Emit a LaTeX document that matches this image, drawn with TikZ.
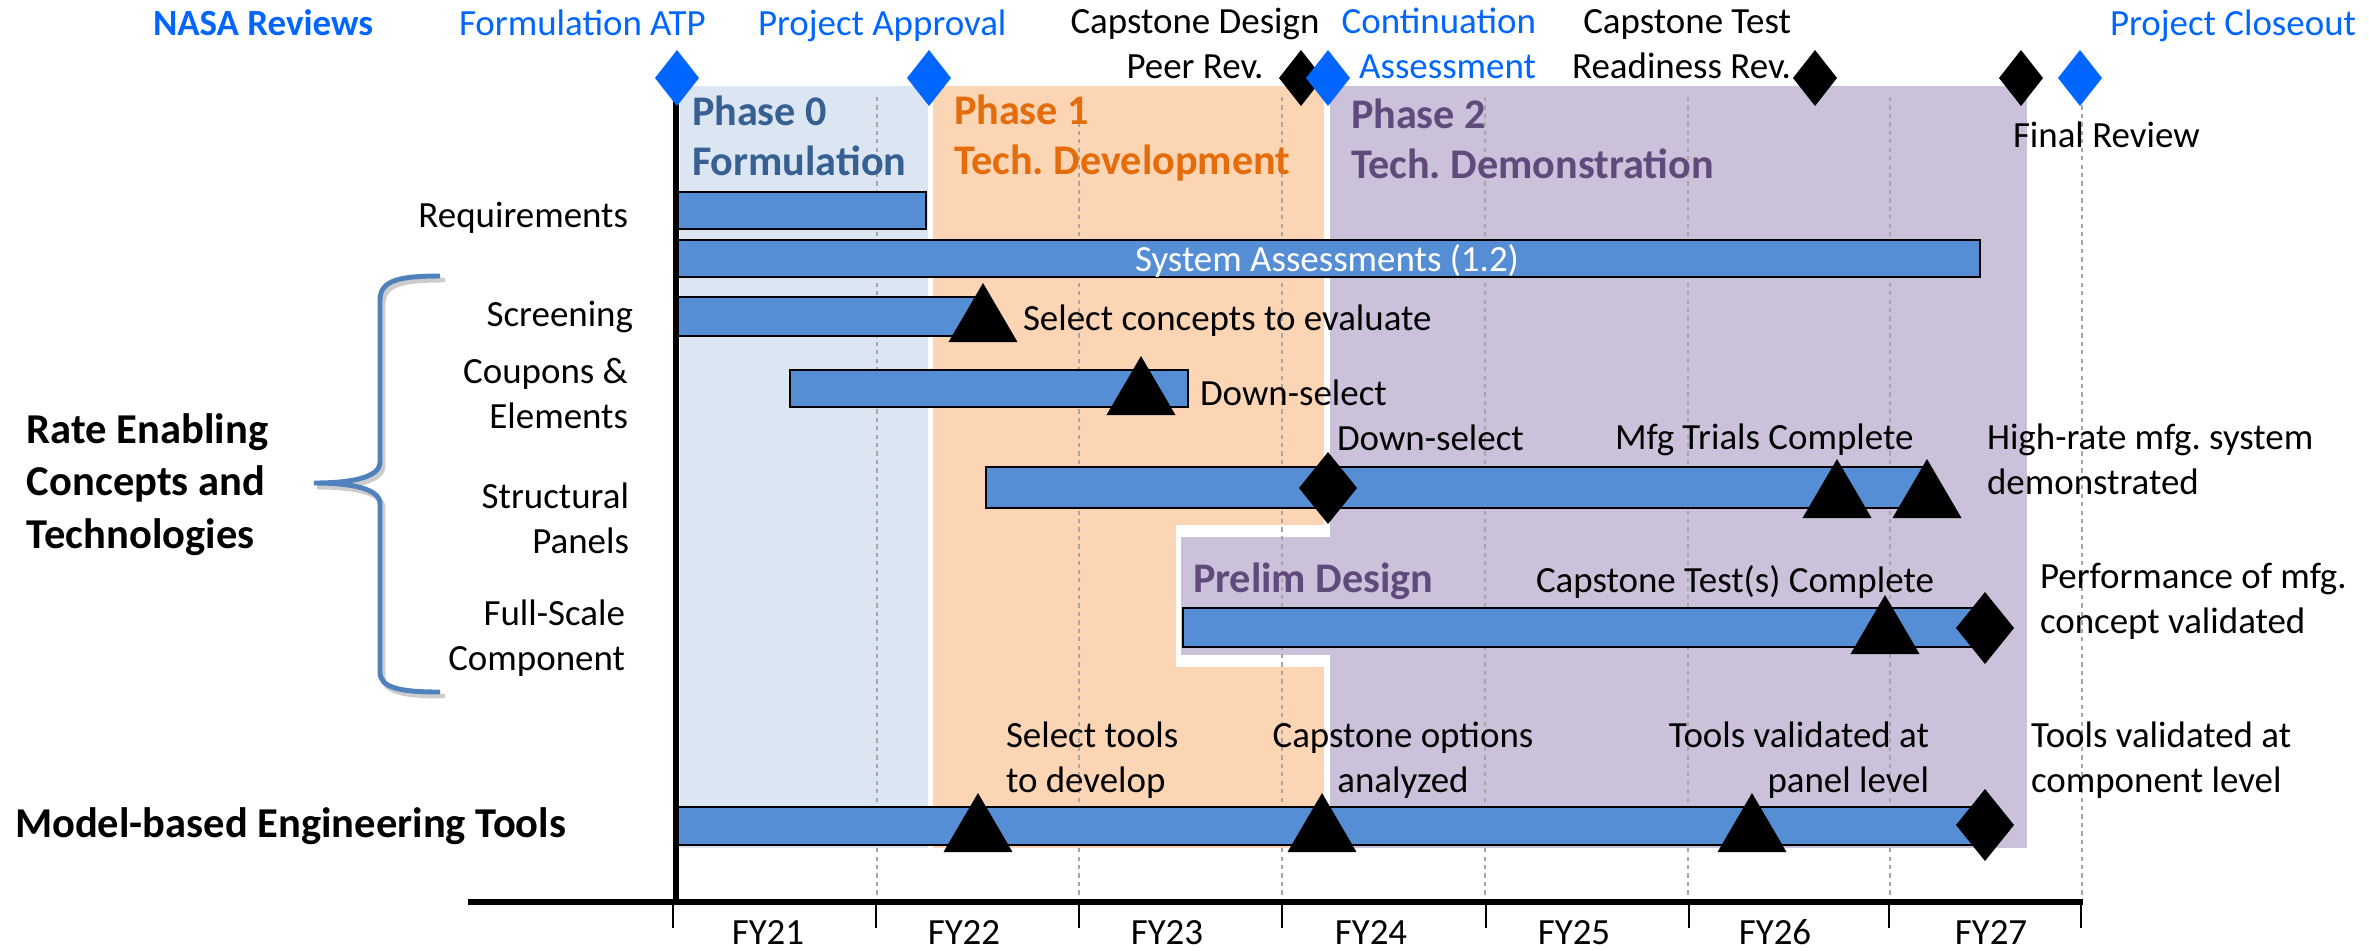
\documentclass[tikz,border=0pt]{standalone}
\usepackage{fontspec}
\setmainfont{Carlito}
\frenchspacing
\definecolor{barblue}{HTML}{558ED5}
\definecolor{phzero}{HTML}{DCE6F2}
\definecolor{phone}{HTML}{FCD5B5}
\definecolor{phtwo}{HTML}{CCC1DA}
\definecolor{nasablue}{HTML}{0066FF}
\definecolor{phzerotxt}{HTML}{376092}
\definecolor{phonetxt}{HTML}{E46C0A}
\definecolor{phtwotxt}{HTML}{604A7B}
\definecolor{bracecol}{HTML}{4F81BD}
\tikzset{
  lbl/.style={inner sep=0pt, outer sep=0pt, font=\fontsize{10.5}{12.6}\selectfont},
  blbl/.style={inner sep=0pt, outer sep=0pt, font=\bfseries\fontsize{12}{14.2}\selectfont},
  lblb/.style={inner sep=0pt, outer sep=0pt, font=\bfseries\fontsize{12.1}{14.8}\selectfont},
  bar/.style={draw=black, line width=0.8pt, fill=barblue},
  yeargrid/.style={black!35, dash pattern=on 1.2pt off 1.2pt, line width=0.35pt},
  mstri/.pic={\fill[black] (0,0) -- (34.5,59) -- (-34.5,59) -- cycle;},
  msdia/.pic={\fill[black] (0,-36) -- (29,0) -- (0,36) -- (-29,0) -- cycle;},
  topdia/.pic={\fill[#1] (0,-28) -- (22,0) -- (0,28) -- (-22,0) -- cycle;},
}
\begin{document}
\begin{tikzpicture}[x=0.01cm, y=-0.01cm]
\useasboundingbox (0,0) rectangle (2369,950);
% phase backgrounds
\fill[phzero] (680,86) rectangle (928,848);
\fill[phone] (933,86) rectangle (1324,848);
\fill[phtwo] (1330,86) rectangle (2027,848);
\fill[white] (1176,525) rectangle (1330,667);
\fill[phtwo] (1181,537) rectangle (1331,655);
% year grid
\foreach \gx in {877,1079,1282,1485,1688,1890,2082}
  \draw[yeargrid] (\gx,97) -- (\gx,900);
% bars
\draw[bar] (676,192) rectangle (926,229);
\draw[bar] (676,240) rectangle (1980,277);
\draw[bar] (676,297) rectangle (975,336);
\draw[bar] (790,370) rectangle (1188,407);
\draw[bar] (986,467) rectangle (1925,508);
\draw[bar] (1183,608) rectangle (1978,647);
\draw[bar] (676,807) rectangle (1978,845);
% axes
\draw[line width=1.5pt] (676,100) -- (676,902);
\draw[line width=1.7pt] (468,902) -- (2083,902);
\foreach \tx in {673,876,1079,1282,1486,1689,1889,2081}
  \draw[line width=0.45pt] (\tx,902) -- (\tx,928);
% milestones on bars
\pic at (983,283) {mstri};
\pic at (1141,356) {mstri};
\pic at (1837,459) {mstri};
\pic at (1927,459) {mstri};
\pic at (1885,595) {mstri};
\pic at (978,793) {mstri};
\pic at (1322,793) {mstri};
\pic at (1752,793) {mstri};
\pic at (1328,488) {msdia};
\pic at (1985,628) {msdia};
\pic at (1985,825) {msdia};
% top review diamonds
\pic at (1301,78) {topdia=black};
\pic at (1815,78) {topdia=black};
\pic at (2021,78) {topdia=black};
\pic at (677,78) {topdia=nasablue};
\pic at (929,78) {topdia=nasablue};
\pic at (1328,78) {topdia=nasablue};
\pic at (2080,78) {topdia=nasablue};
% brace
\draw[black!40, opacity=0.5, line width=1.4pt, line cap=round]
  (443,280) .. controls (403,280) and (383,284) .. (383,304) -- (383,466)
  .. controls (383,482) and (353,487) .. (317,487)
  .. controls (353,487) and (383,492) .. (383,508) -- (383,676)
  .. controls (383,692) and (403,696) .. (443,696);
\draw[bracecol, line width=1.4pt]
  (440,276) .. controls (400,276) and (380,280) .. (380,300) -- (380,462)
  .. controls (380,478) and (350,483) .. (314,483)
  .. controls (350,483) and (380,488) .. (380,504) -- (380,672)
  .. controls (380,688) and (400,692) .. (440,692);
% top row texts
\node[lbl, text=nasablue, font=\bfseries\fontsize{10.5}{12.6}\selectfont, anchor=base west] (nasa) at (153,35) {NASA Reviews};
\node[lbl, text=nasablue, anchor=base west] (fatp) at (459,35) {Formulation ATP};
\node[lbl, text=nasablue, anchor=base west] (papp) at (758,35) {Project Approval};
\node[lbl, align=center, anchor=base] (cdpr) at (1195,78) {Capstone Design\\Peer Rev.};
\node[lbl, text=nasablue, align=right, anchor=base east] (cont) at (1536,78) {Continuation\\Assessment};
\node[lbl, align=right, anchor=base east] (ctrr) at (1791,78) {Capstone Test\\Readiness Rev.};
\node[lbl, text=nasablue, anchor=base west] (pclose) at (2110,35) {Project Closeout};
\node[lbl, anchor=base west] (final) at (2013,147) {Final Review};
% phase titles
\node[blbl, text=phzerotxt, align=left, anchor=base west] (ph0) at (692,175) {Phase 0\\Formulation};
\node[blbl, text=phonetxt, align=left, anchor=base west] (ph1) at (954,174) {Phase 1\\Tech. Development};
\node[blbl, text=phtwotxt, align=left, anchor=base west] (ph2) at (1351,178) {Phase 2\\Tech. Demonstration};
% row labels
\node[lbl, anchor=base east] (req) at (628,227) {Requirements};
\node[lbl, anchor=base east] (scr) at (633,326) {Screening};
\node[lbl, align=right, anchor=base east] (coup) at (628,428) {Coupons \&\\Elements};
\node[lbl, align=right, anchor=base east] (pan) at (629,553) {Structural\\Panels};
\node[lbl, align=right, anchor=base east] (fsc) at (625,670) {Full-Scale\\Component};
\node[lblb, align=left, anchor=base west] (rate) at (27,548) {Rate Enabling\\Concepts and\\Technologies};
\node[lblb, anchor=base west] (mbe) at (15,837) {Model-based Engineering Tools};
% bar texts
\node[lbl, text=white, anchor=base] (sysa) at (1327,271) {System Assessments (1.2)};
\node[lbl, anchor=base west] (selc) at (1023,330) {Select concepts to evaluate};
\node[lbl, anchor=base west] (dsa) at (1200,405) {Down-select};
\node[lbl, anchor=base west] (dsb) at (1337,450) {Down-select};
\node[lbl, anchor=base west] (mfg) at (1615,449) {Mfg Trials Complete};
\node[lbl, align=left, anchor=base west] (hr) at (1987,494) {High-rate mfg. system\\demonstrated};
\node[blbl, text=phtwotxt, anchor=base west] (prel) at (1193,592) {Prelim Design};
\node[lbl, anchor=base west] (cap) at (1536,592) {Capstone Test(s) Complete};
\node[lbl, align=left, anchor=base west] (perf) at (2040,633) {Performance of mfg.\\concept validated};
\node[lbl, align=left, anchor=base west] (selt) at (1006,792) {Select tools\\to develop};
\node[lbl, align=center, anchor=base] (capo) at (1403,792) {Capstone options\\analyzed};
\node[lbl, align=right, anchor=base east] (tvp) at (1929,792) {Tools validated at\\panel level};
\node[lbl, align=left, anchor=base west] (tvc) at (2031,792) {Tools validated at\\component level};
% fiscal years
\foreach \fx/\fy in {768/FY21,964/FY22,1167/FY23,1371/FY24,1574/FY25,1775/FY26,1991/FY27}
  \node[lbl, anchor=base] (\fy) at (\fx,944) {\fy};
\end{tikzpicture}
\end{document}
